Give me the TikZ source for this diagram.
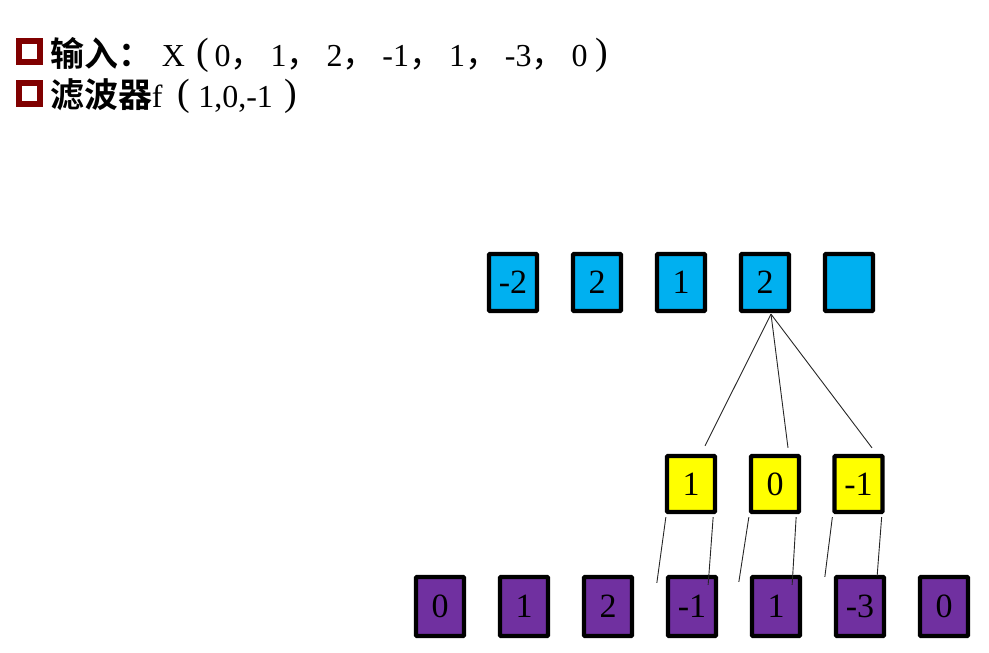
\documentclass[tikz,border=0pt]{standalone}
\usepackage{fontspec}
\setmainfont{Liberation Serif}
\newfontfamily\cjk{Noto Sans CJK SC}[Scale=1.06]
\newfontfamily\cjkb{Noto Sans CJK SC Bold}[Scale=1.06]
\usetikzlibrary{calc}
\definecolor{cblue}{HTML}{00B0F0}
\definecolor{cyel}{HTML}{FFFF00}
\definecolor{cpur}{HTML}{7030A0}
\definecolor{cbul}{HTML}{800000}
\newcommand{\fwc}{{\cjk ，}\hspace{6pt}}
\newcommand{\myparl}{\raisebox{2pt}{\fontsize{38}{38}\selectfont(}}
\newcommand{\myparr}{\raisebox{2pt}{\fontsize{38}{38}\selectfont)}}
\tikzset{
  cell/.style={draw=black, line width=4.3, rounded corners=1, minimum width=48, inner sep=0,
    font=\fontsize{34}{34}\selectfont},
  bluecell/.style={cell, fill=cblue, minimum height=57},
  yelcell/.style={cell, fill=cyel, minimum height=56},
  purcell/.style={cell, fill=cpur, minimum height=59},
  link/.style={draw=black!85, line width=0.9},
  bullet/.style={draw=cbul, line width=6, fill=white, minimum size=21, inner sep=0},
  title/.style={anchor=base west, inner sep=0, font=\fontsize{32}{32}\selectfont}
}
\begin{document}
\begin{tikzpicture}[x=1pt, y=-1pt]
\useasboundingbox (0,0) rectangle (989,653);
% title
\node[bullet] (bul1) at (29,51.5) {};
\node[bullet] (bul2) at (29,93.5) {};
\node[title] (t1) at (50,66.5) {{\cjkb 输入：}\hspace{10pt}X\hspace{11pt}\myparl\hspace{6pt}0\fwc 1\fwc 2\fwc -1\fwc 1\fwc -3\fwc 0\hspace{8pt}\myparr};
\node[title] (t2) at (50,107) {{\cjkb 滤波器}f\hspace{15pt}\myparl\hspace{8pt}1,0,-1\hspace{12pt}\myparr};
% output row
\node[bluecell] (b1) at (513,282.5) {-2};
\node[bluecell] (b2) at (597,282.5) {2};
\node[bluecell] (b3) at (681,282.5) {1};
\node[bluecell] (b4) at (765,282.5) {2};
\node[bluecell] (b5) at (849,282.5) {};
% filter row
\node[yelcell] (y1) at (691,484) {1};
\node[yelcell] (y2) at (775,484) {0};
\node[yelcell] (y3) at (858.5,484) {-1};
% input row
\node[purcell] (p1) at (440,606.5) {0};
\node[purcell] (p2) at (524,606.5) {1};
\node[purcell] (p3) at (608,606.5) {2};
\node[purcell] (p4) at (692,606.5) {-1};
\node[purcell] (p5) at (776,606.5) {1};
\node[purcell] (p6) at (860,606.5) {-3};
\node[purcell] (p7) at (944,606.5) {0};
% links output -> filter
\coordinate (top) at ($(b4.south)+(6,1)$);
\draw[link] (top) -- ($(y1.north)+(14,-8)$);
\draw[link] (top) -- ($(y2.north)+(13,-6)$);
\draw[link] (top) -- ($(y3.north)+(13.5,-6)$);
% links filter -> input
\draw[link] ($(y1.south west)+(1,3)$) -- ($(p4.north west)+(-9,8)$);
\draw[link] ($(y1.south east)+(-4,3)$) -- ($(p4.north east)+(-10,10)$);
\draw[link] ($(y2.south west)+(0,3)$) -- ($(p5.north west)+(-11,7)$);
\draw[link] ($(y2.south east)+(-5,3)$) -- ($(p5.north east)+(-10,10)$);
\draw[link] ($(y3.south west)+(0,3)$) -- ($(p6.north west)+(-9,2)$);
\draw[link] ($(y3.south east)+(-3,3)$) -- ($(p6.north east)+(-9,1)$);
\end{tikzpicture}
\end{document}
